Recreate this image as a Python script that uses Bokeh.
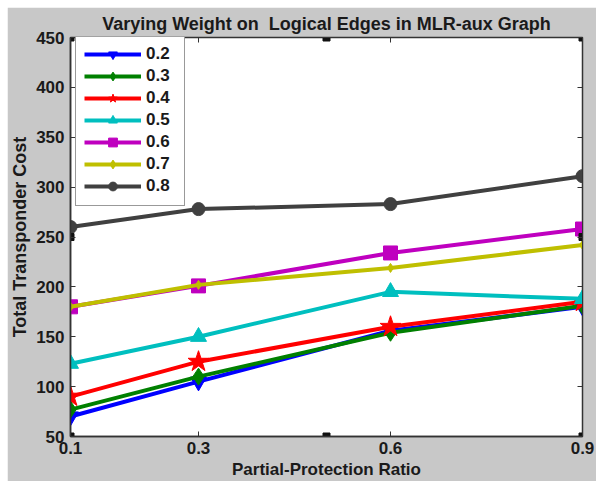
from bokeh.plotting import figure
from bokeh.models import Range1d, FixedTicker, LinearAxis, Legend, LegendItem, CustomJSTickFormatter
from bokeh.embed import file_html
from bokeh.resources import INLINE

x_vals = [0.1, 0.3, 0.6, 0.9]
x_ticks = [0.1, 0.3, 0.6, 0.9]
y_ticks = [50, 100, 150, 200, 250, 300, 350, 400, 450]
weights = ["0.2", "0.3", "0.4", "0.5", "0.6", "0.7", "0.8"]
cost_02 = [70, 105, 156, 180]
cost_03 = [77, 110, 154, 181]
cost_04 = [90, 125, 160, 185]
cost_05 = [123, 150, 195, 188]
cost_06 = [180, 201, 234, 258]
cost_07 = [180, 202, 219, 242]
cost_08 = [260, 278, 283, 311]
series = [cost_02, cost_03, cost_04, cost_05, cost_06, cost_07, cost_08]
colors = ["#0000ff", "#008000", "#ff0000", "#00bfbf", "#bf00bf", "#bfbf00", "#404040"]
markers = ["inverted_triangle", "diamond", "star", "triangle", "square", "diamond", "circle"]
msizes = [16, 17, 22, 16, 14, 9, 13]

FONT = "Liberation Sans"
GRAY = "#c8c8c8"
INK = "#1a1a1a"

xr = Range1d(0.1, 0.9)
yr = Range1d(50, 450)
p = figure(width=589, height=474, output_backend="svg", toolbar_location=None,
           x_range=xr, y_range=yr,
           min_border_left=63, min_border_right=14, min_border_top=30, min_border_bottom=43)
p.margin = (7, 0, 0, 7)
p.border_fill_color = GRAY
p.background_fill_color = "white"
p.outline_line_color = "#333333"
p.outline_line_width = 1.5
p.xgrid.visible = False
p.ygrid.visible = False

p.title.text = "Varying Weight on \u00a0Logical Edges in MLR-aux Graph"
p.title.align = "center"
p.title.offset = -6
p.title.standoff = 8
p.title.text_font = FONT
p.title.text_font_size = "18px"
p.title.text_font_style = "bold"
p.title.text_color = INK

for ax in (p.xaxis[0], p.yaxis[0]):
    ax.major_label_text_font = FONT
    ax.major_label_text_font_size = "17px"
    ax.major_label_text_font_style = "bold"
    ax.major_label_text_color = INK
    ax.axis_label_text_font = FONT
    ax.axis_label_text_font_style = "bold"
    ax.axis_label_text_color = INK
    ax.major_tick_in = 5
    ax.major_tick_out = 0
    ax.minor_tick_line_color = None
    ax.axis_line_color = "#333333"
    ax.axis_line_width = 1.5
    ax.major_tick_line_color = "#333333"

p.xaxis[0].ticker = FixedTicker(ticks=x_ticks)
p.yaxis[0].ticker = FixedTicker(ticks=y_ticks)
p.xaxis[0].axis_label = "Partial-Protection Ratio"
p.yaxis[0].axis_label = "Total Transponder Cost"
p.xaxis[0].axis_label_text_font_size = "17px"
p.yaxis[0].axis_label_text_font_size = "18px"
p.xaxis[0].major_label_standoff = 5
p.yaxis[0].major_label_standoff = 6
p.xaxis[0].axis_label_standoff = 3
p.yaxis[0].axis_label_standoff = 3

blank = CustomJSTickFormatter(code="return ''")
top_ax = LinearAxis(ticker=FixedTicker(ticks=x_ticks), formatter=blank,
                    major_tick_in=5, major_tick_out=0, minor_tick_line_color=None,
                    axis_line_color="#333333", major_tick_line_color="#333333")
right_ax = LinearAxis(ticker=FixedTicker(ticks=y_ticks), formatter=blank,
                      major_tick_in=5, major_tick_out=0, minor_tick_line_color=None,
                      axis_line_color="#333333", major_tick_line_color="#333333")
p.add_layout(top_ax, "above")
p.add_layout(right_ax, "right")

items = []
for name, ys, c, m, s in zip(weights, series, colors, markers, msizes):
    r1 = p.line(x_vals, ys, line_color=c, line_width=4)
    r2 = p.scatter(x_vals, ys, marker=m, size=s, fill_color=c, line_color=c, line_width=1)
    items.append(LegendItem(label=name, renderers=[r1, r2]))

# MATLAB-style selection handles at corners and edge midpoints of the axes box
xm = (xr.start + xr.end) / 2
ym = (yr.start + yr.end) / 2
hx = [xr.start, xm, xr.end, xr.start, xr.end, xr.start, xm, xr.end]
hy = [yr.end, yr.end, yr.end, ym, ym, yr.start, yr.start, yr.start]
p.scatter(hx, hy, marker="square", size=7, fill_color="#111111", line_color="#111111")

legend = Legend(items=items, location=(5, 230))
legend.label_text_font = FONT
legend.label_text_font_size = "17px"
legend.label_text_font_style = "bold"
legend.label_text_color = INK
legend.glyph_width = 57
legend.glyph_height = 22
legend.label_width = 30
legend.spacing = 0
legend.padding = 8
legend.border_line_color = "#333333"
legend.border_line_width = 1
legend.background_fill_alpha = 1
legend.margin = 0
p.add_layout(legend, "center")

open("out.html", "w").write(file_html(p, INLINE))
